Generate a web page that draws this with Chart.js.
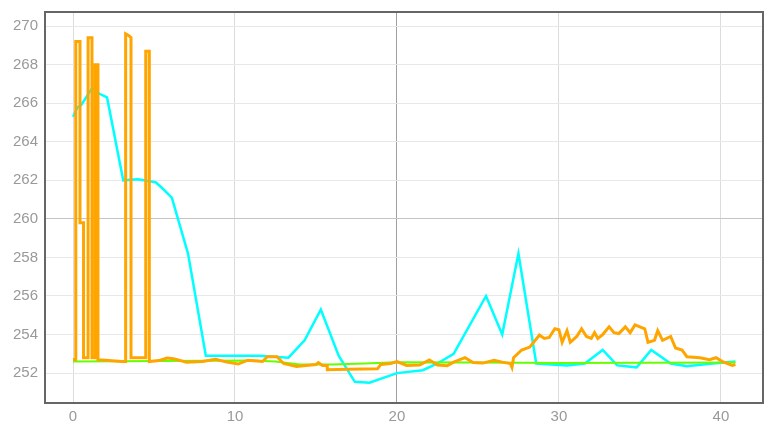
<!DOCTYPE html>
<html>
<head>
<meta charset="utf-8">
<script src="https://cdn.jsdelivr.net/npm/chart.js@4/dist/chart.umd.min.js"></script>
<style>
    html, body { margin: 0; padding: 0; background: #ffffff; }
    #wrap { width: 779px; height: 433px; }
</style>
</head>
<body>
<div id="wrap"><canvas id="chart" width="779" height="433"></canvas></div>
<script>
// tick labels
const xTicks = [0, 10, 20, 30, 40];
const yTicks = [252, 254, 256, 258, 260, 262, 264, 266, 268, 270];

// orange series (stepped spikes at the start)
const orangeX = [0, 0.17, 0.17, 0.43, 0.43, 0.65, 0.65, 0.93, 0.93, 1.17, 1.17, 1.36, 1.36, 1.54, 1.54, 2.2, 3.0, 3.25, 3.25, 3.45, 3.58, 3.58, 4.49, 4.49, 4.71, 4.71,
    5.3, 5.8, 6.2, 7.0, 8.0, 8.8, 9.5, 10.2, 10.8, 11.7, 12.0, 12.6, 13.0, 13.8, 14.4, 15.0, 15.15, 15.4, 15.7, 15.7, 17.0, 18.8, 19.0, 19.6, 20.0,
    20.6, 21.4, 22.0, 22.5, 23.1, 23.5, 24.2, 24.7, 25.3, 26.0, 26.5, 27.0, 27.1, 27.2, 27.7, 28.2, 28.8, 29.1, 29.4, 29.75, 30.0, 30.2, 30.5, 30.7,
    31.1, 31.4, 31.7, 32.0, 32.2, 32.4, 32.7, 33.1, 33.4, 33.7, 34.1, 34.4, 34.7, 35.0, 35.3, 35.5, 35.9, 36.1, 36.4, 36.9, 37.2, 37.6, 37.9, 38.7,
    39.3, 39.7, 40.1, 40.7, 40.9];
const orangeY = [252.7, 252.7, 269.2, 269.2, 259.8, 259.8, 252.8, 252.8, 269.4, 269.4, 252.8, 252.8, 268.0, 268.0, 252.7, 252.65, 252.6, 252.6, 269.6, 269.5, 269.4, 252.8, 252.8, 268.7, 268.7, 252.6,
    252.65, 252.78, 252.75, 252.57, 252.6, 252.72, 252.57, 252.47, 252.67, 252.6, 252.85, 252.85, 252.5, 252.35, 252.4, 252.45, 252.55, 252.4, 252.4, 252.18, 252.2, 252.22, 252.45, 252.5, 252.6,
    252.4, 252.42, 252.68, 252.42, 252.38, 252.57, 252.8, 252.55, 252.52, 252.67, 252.57, 252.5, 252.3, 252.8, 253.2, 253.35, 253.97, 253.8, 253.85, 254.3, 254.25, 253.6, 254.2, 253.6,
    253.9, 254.3, 253.9, 253.8, 254.1, 253.8, 254.0, 254.4, 254.1, 254.05, 254.4, 254.1, 254.5, 254.4, 254.3, 253.6, 253.7, 254.2, 253.7, 253.9, 253.3, 253.2, 252.85, 252.8,
    252.7, 252.8, 252.6, 252.4, 252.45];

// cyan series
const cyanX = [0, 0.3, 0.5, 1.2, 1.6, 2.1, 3.1, 4.0, 5.1, 5.5, 6.1, 7.1, 8.2, 11.5, 13.3, 14.3, 15.3, 16.4, 17.4, 18.3, 20.0, 21.6, 22.5, 23.5, 25.5, 26.5, 27.5,
    28.6, 30.5, 31.6, 32.7, 33.6, 34.8, 35.7, 36.9, 37.9, 39.5, 40.9];
const cyanY = [265.3, 265.8, 265.9, 266.8, 266.5, 266.3, 262.0, 262.05, 261.9, 261.6, 261.1, 258.2, 252.9, 252.9, 252.8, 253.7, 255.3, 252.9, 251.55, 251.5, 252.0, 252.15, 252.5, 253.0, 256.0, 254.0, 258.2,
    252.5, 252.4, 252.5, 253.2, 252.4, 252.3, 253.2, 252.5, 252.36, 252.5, 252.6];

// green series
const greenX = [0, 11, 12.5, 14, 16, 18, 20, 25, 30, 40.9];
const greenY = [252.6, 252.65, 252.6, 252.45, 252.45, 252.5, 252.57, 252.55, 252.53, 252.55];

function pts(xs, ys) {
    return xs.map((x, i) => ({ x: x, y: ys[i] }));
}

// box around the plot area
const frame = {
    id: "frame",
    afterDraw(chart) {
        const a = chart.chartArea;
        const ctx = chart.ctx;
        ctx.save();
        ctx.strokeStyle = "#666";
        ctx.lineWidth = 2;
        ctx.strokeRect(a.left, a.top, a.right - a.left, a.bottom - a.top);
        ctx.restore();
    }
};

const tickFont = { family: "Liberation Sans", size: 15 };

new Chart(document.getElementById("chart").getContext("2d"), {
    type: "scatter",
    data: {
        datasets: [
            { label: "cyan", data: pts(cyanX, cyanY), showLine: true, borderColor: "#00ffff", borderWidth: 2.5, pointRadius: 0, order: 3 },
            { label: "green", data: pts(greenX, greenY), showLine: true, borderColor: "#66ff00", borderWidth: 2, pointRadius: 0, order: 2 },
            { label: "orange", data: pts(orangeX, orangeY), showLine: true, borderColor: "#ffa500", borderWidth: 3, pointRadius: 0, order: 1 }
        ]
    },
    options: {
        responsive: false,
        animation: false,
        layout: { padding: { left: 0, right: 16, top: 12, bottom: 0 } },
        plugins: { legend: { display: false }, tooltip: { enabled: false } },
        scales: {
            x: {
                type: "linear",
                min: -1.73,
                max: 42.6,
                afterBuildTicks: s => { s.ticks = xTicks.map(v => ({ value: v })); },
                afterFit: s => { s.height = 30; },
                grid: {
                    color: c => (c.tick && c.tick.value === 20 ? "#a0a0a0" : "#dcdcdc"),
                    drawTicks: false
                },
                border: { display: false },
                ticks: { color: "#999", font: tickFont, padding: 5 }
            },
            y: {
                type: "linear",
                min: 250.45,
                max: 270.73,
                afterBuildTicks: s => { s.ticks = yTicks.map(v => ({ value: v })); },
                afterFit: s => { s.width = 45; s.paddingTop = 0; s.paddingBottom = 0; },
                grid: {
                    color: c => (c.tick && c.tick.value === 260 ? "#c4c4c4" : "#e8e8e8"),
                    drawTicks: false
                },
                border: { display: false },
                ticks: { color: "#999", font: tickFont, padding: 7 }
            }
        }
    },
    plugins: [frame]
});
</script>
</body>
</html>
